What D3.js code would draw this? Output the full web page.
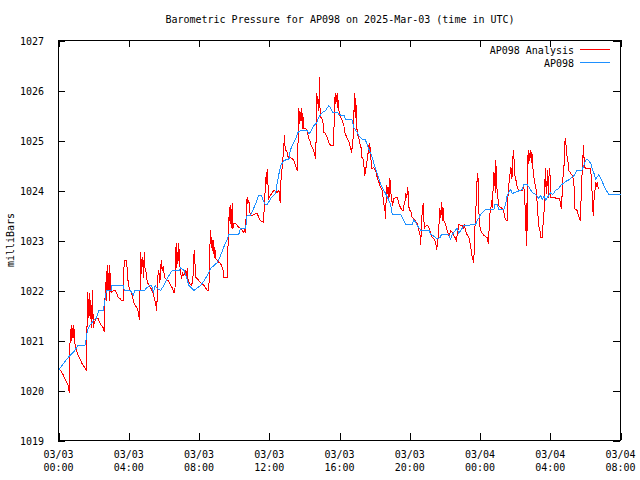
<!DOCTYPE html>
<html><head><meta charset="utf-8">
<script src="https://cdn.jsdelivr.net/npm/d3@7"></script>
<style>
html,body{margin:0;padding:0;background:#fff;}
svg text{font-family:"DejaVu Sans Mono","Liberation Mono",monospace;font-size:10px;fill:#000;}
</style></head>
<body><svg id="c" width="640" height="480"></svg>
<script>
const titleText = "Barometric Pressure for AP098 on 2025-Mar-03 (time in UTC)";
const yLabel = "milliBars";
const seriesNames = ["AP098 Analysis", "AP098"];
const seriesColors = ["#ff0000", "#1e90ff"];
const yTicks = [1019,1020,1021,1022,1023,1024,1025,1026,1027];
const xTickHours = [0,4,8,12,16,20,24,28,32];
const xTickDates = ["03/03","03/03","03/03","03/03","03/03","03/03","03/04","03/04","03/04"];
const xTickTimes = ["00:00","04:00","08:00","12:00","16:00","20:00","00:00","04:00","08:00"];

// Analysis (hours since 03/03 00:00 UTC, mBar)
const analysisHours = [0.04,0.23,0.36,0.51,0.58,0.61,0.63,0.65,0.69,0.72,0.76,0.8,0.84,0.87,0.93,1.03,1.12,1.22,1.31,1.4,1.5,1.59,1.65,1.7,1.75,1.8,1.84,1.9,1.94,1.98,2.03,2.09,2.16,2.25,2.35,2.44,2.54,2.6,2.64,2.68,2.72,2.77,2.81,2.85,2.89,2.92,2.96,3.02,3.12,3.21,3.3,3.4,3.5,3.59,3.68,3.74,3.87,3.93,3.97,4.03,4.1,4.2,4.29,4.38,4.48,4.55,4.61,4.65,4.69,4.72,4.76,4.8,4.84,4.88,4.92,4.97,5.06,5.16,5.27,5.39,5.48,5.55,5.58,5.62,5.66,5.71,5.77,5.85,5.9,5.96,6.04,6.14,6.23,6.33,6.38,6.47,6.57,6.63,6.66,6.7,6.74,6.78,6.81,6.85,6.89,6.95,7.0,7.07,7.14,7.24,7.29,7.33,7.38,7.48,7.57,7.65,7.69,7.73,7.77,7.82,7.9,7.99,8.08,8.18,8.28,8.37,8.47,8.56,8.62,8.66,8.7,8.73,8.79,8.83,8.86,8.9,8.95,9.04,9.13,9.23,9.32,9.38,9.42,9.52,9.61,9.66,9.7,9.74,9.77,9.81,9.85,9.89,9.93,9.98,10.08,10.18,10.27,10.37,10.46,10.56,10.6,10.65,10.69,10.74,10.78,10.84,10.88,10.93,11.02,11.12,11.22,11.31,11.41,11.5,11.6,11.66,11.7,11.75,11.79,11.84,11.88,11.93,11.98,12.07,12.17,12.26,12.36,12.45,12.55,12.58,12.62,12.66,12.7,12.74,12.77,12.82,12.87,12.91,12.99,13.08,13.21,13.3,13.4,13.49,13.59,13.62,13.65,13.69,13.72,13.76,13.8,13.84,13.88,13.91,13.97,14.07,14.16,14.23,14.32,14.39,14.48,14.56,14.64,14.67,14.71,14.75,14.79,14.82,14.86,14.9,14.97,15.05,15.11,15.2,15.3,15.39,15.49,15.58,15.64,15.68,15.72,15.76,15.79,15.83,15.87,15.9,15.94,15.98,16.06,16.16,16.25,16.3,16.44,16.55,16.69,16.74,16.78,16.82,16.86,16.89,16.93,16.97,17.01,17.1,17.16,17.24,17.28,17.33,17.39,17.44,17.49,17.54,17.59,17.64,17.69,17.73,17.77,17.81,17.89,17.96,18.06,18.15,18.25,18.34,18.43,18.49,18.54,18.58,18.62,18.66,18.7,18.74,18.77,18.81,18.87,18.91,18.96,19.02,19.1,19.19,19.29,19.38,19.47,19.57,19.63,19.69,19.74,19.78,19.82,19.86,19.89,19.93,19.97,20.05,20.14,20.23,20.31,20.39,20.46,20.52,20.58,20.62,20.66,20.69,20.73,20.77,20.8,20.86,20.94,21.03,21.1,21.18,21.28,21.37,21.47,21.53,21.58,21.62,21.66,21.7,21.75,21.81,21.85,21.89,21.94,22.03,22.13,22.23,22.34,22.42,22.51,22.58,22.65,22.7,22.76,22.8,22.9,22.99,23.05,23.1,23.18,23.28,23.37,23.44,23.5,23.56,23.61,23.65,23.69,23.73,23.77,23.81,23.84,23.88,23.92,23.96,24.05,24.13,24.23,24.32,24.4,24.47,24.51,24.56,24.61,24.66,24.7,24.75,24.79,24.83,24.87,24.9,24.94,24.98,25.07,25.17,25.27,25.36,25.42,25.5,25.55,25.59,25.63,25.67,25.71,25.74,25.78,25.82,25.87,25.91,25.95,25.99,26.05,26.12,26.2,26.31,26.41,26.5,26.56,26.59,26.63,26.67,26.71,26.75,26.78,26.82,26.86,26.9,26.93,26.96,27.0,27.03,27.11,27.16,27.22,27.26,27.32,27.36,27.41,27.47,27.54,27.58,27.62,27.66,27.69,27.73,27.77,27.81,27.85,27.89,27.92,27.96,28.0,28.04,28.2,28.4,28.5,28.55,28.59,28.63,28.66,28.7,28.74,28.78,28.81,28.85,28.89,28.93,28.97,29.02,29.06,29.14,29.25,29.3,29.35,29.38,29.45,29.54,29.6,29.66,29.71,29.74,29.78,29.82,29.86,29.89,29.93,29.97,30.05,30.11,30.2,30.3,30.34,30.37,30.41,30.45,30.49,30.52,30.56,30.6,30.64,30.68,30.72,30.77];
const analysisValues = [1020.44,1020.34,1020.24,1020.14,1020.06,1019.96,1020.3,1020.94,1021.0,1021.3,1021.0,1021.24,1021.06,1021.3,1020.94,1020.8,1020.7,1020.64,1020.56,1020.5,1020.46,1020.4,1021.96,1021.46,1021.94,1021.44,1021.8,1021.26,1022.0,1021.26,1021.34,1021.4,1021.46,1021.44,1021.36,1021.3,1021.26,1021.18,1021.76,1022.16,1021.8,1022.5,1022.0,1022.34,1021.8,1022.5,1022.0,1021.96,1022.0,1022.0,1021.96,1021.86,1021.84,1021.8,1021.8,1022.6,1022.6,1022.34,1022.14,1022.04,1022.0,1021.9,1021.76,1021.7,1021.64,1021.56,1021.42,1022.14,1022.76,1022.34,1022.5,1022.66,1022.26,1022.76,1022.46,1022.4,1022.16,1022.1,1022.04,1021.94,1021.82,1021.7,1021.6,1021.84,1022.3,1022.4,1022.16,1022.6,1022.4,1022.48,1022.26,1022.22,1022.2,1022.16,1022.1,1022.06,1021.96,1021.96,1022.6,1022.94,1022.46,1022.76,1022.6,1022.94,1022.54,1022.4,1022.24,1022.34,1022.3,1022.4,1022.26,1022.44,1022.2,1022.14,1022.1,1022.2,1022.6,1022.8,1022.54,1022.26,1022.24,1022.2,1022.16,1022.14,1022.1,1022.06,1022.0,1022.0,1022.86,1023.2,1022.86,1023.06,1022.8,1023.0,1022.66,1022.86,1022.64,1022.6,1022.56,1022.54,1022.46,1022.4,1022.26,1022.26,1022.26,1023.0,1023.4,1023.66,1023.34,1023.7,1023.26,1023.74,1023.24,1023.34,1023.34,1023.3,1023.26,1023.24,1023.2,1023.16,1023.2,1023.16,1023.54,1023.86,1023.74,1023.8,1023.6,1023.5,1023.5,1023.52,1023.54,1023.54,1023.46,1023.4,1023.38,1023.36,1023.56,1023.86,1024.26,1024.14,1024.42,1024.1,1023.84,1023.9,1023.96,1024.0,1023.98,1023.96,1024.0,1023.9,1023.76,1024.14,1024.4,1024.44,1024.6,1024.84,1025.1,1024.8,1024.8,1024.66,1024.66,1024.64,1024.6,1024.5,1024.4,1024.54,1025.2,1025.64,1025.34,1025.56,1025.4,1025.64,1025.24,1025.54,1025.24,1025.24,1025.2,1025.06,1025.0,1024.9,1024.84,1024.76,1024.64,1025.06,1025.94,1025.74,1025.8,1025.6,1026.26,1025.46,1025.46,1025.4,1025.16,1025.14,1025.06,1024.96,1024.9,1024.9,1024.9,1025.16,1025.74,1025.94,1025.74,1025.86,1025.94,1025.66,1025.8,1025.54,1025.46,1025.4,1025.3,1025.16,1025.04,1024.96,1024.76,1024.94,1025.06,1025.54,1025.94,1025.46,1025.84,1025.34,1025.16,1025.04,1024.94,1024.84,1024.66,1024.66,1024.5,1024.3,1024.46,1024.46,1024.7,1024.76,1024.94,1024.76,1024.86,1024.44,1024.44,1024.46,1024.4,1024.26,1024.16,1024.06,1024.0,1023.84,1023.7,1023.64,1023.44,1023.86,1024.1,1023.94,1024.06,1023.8,1024.24,1024.0,1023.86,1023.7,1023.84,1023.86,1023.86,1023.74,1023.66,1023.6,1023.6,1023.74,1023.8,1023.94,1023.86,1023.96,1024.06,1023.8,1023.6,1023.6,1023.46,1023.44,1023.4,1023.36,1023.3,1023.2,1023.14,1022.92,1023.2,1023.46,1023.66,1023.74,1023.4,1023.26,1023.3,1023.3,1023.24,1023.16,1023.06,1023.04,1022.96,1022.82,1022.94,1023.06,1023.26,1023.64,1023.46,1023.76,1023.4,1023.66,1023.4,1023.34,1023.2,1023.1,1023.2,1023.16,1023.1,1023.06,1023.0,1023.1,1023.24,1023.32,1023.3,1023.3,1023.26,1023.32,1023.2,1023.1,1023.06,1022.94,1022.8,1022.66,1022.6,1022.56,1023.2,1023.34,1023.66,1024.06,1024.24,1024.34,1023.8,1023.34,1023.2,1023.14,1023.1,1023.08,1023.06,1022.94,1023.16,1023.54,1023.6,1023.8,1023.66,1024.06,1024.36,1024.3,1023.96,1024.6,1024.2,1023.96,1023.7,1023.66,1023.64,1023.56,1023.46,1023.4,1023.4,1023.86,1024.1,1024.2,1024.34,1024.46,1024.44,1024.24,1024.64,1024.8,1024.54,1024.3,1024.2,1024.06,1024.0,1024.0,1024.0,1024.06,1023.76,1023.2,1023.74,1022.9,1024.6,1024.8,1024.54,1024.74,1024.66,1024.8,1024.56,1024.74,1024.54,1024.36,1024.16,1024.1,1023.94,1023.7,1023.4,1023.26,1023.2,1023.06,1023.06,1023.3,1023.4,1023.66,1024.14,1024.44,1023.94,1024.16,1024.4,1023.86,1024.24,1024.44,1024.26,1023.86,1023.86,1023.84,1023.84,1023.8,1023.7,1023.64,1023.8,1024.1,1024.34,1024.46,1024.8,1025.04,1024.94,1024.76,1024.66,1024.56,1024.4,1024.36,1024.3,1024.24,1024.14,1023.64,1023.62,1023.6,1023.5,1023.46,1023.4,1023.66,1024.06,1024.4,1024.66,1024.9,1024.6,1024.46,1024.44,1024.44,1024.44,1024.44,1024.24,1024.06,1023.7,1023.5,1023.8,1023.86,1024.06,1024.16,1024.1,1024.14,1024.06,1024.04];

// Station observations (hours, mBar)
const obsHours = [0.0,0.2,0.42,0.65,0.93,1.1,1.5,1.56,1.65,1.78,2.0,2.16,2.3,2.55,2.62,2.73,3.0,3.02,3.68,3.75,4.1,4.25,4.35,4.9,5.0,5.2,5.3,5.4,5.5,5.6,5.81,6.0,6.2,6.47,6.9,6.95,7.15,7.3,7.42,7.71,7.9,8.09,8.3,8.47,8.66,8.85,9.04,9.23,9.41,9.61,9.7,10.27,10.36,10.65,10.74,10.93,11.22,11.4,11.55,11.65,11.75,11.9,12.1,12.36,12.45,12.55,12.65,12.83,13.12,13.2,13.3,13.5,13.65,13.78,14.16,14.26,14.4,14.54,14.7,14.82,15.0,15.2,15.39,15.5,15.59,15.87,15.96,16.06,16.25,16.34,16.7,16.82,17.01,17.1,17.29,17.45,17.55,17.67,17.86,17.96,18.15,18.34,18.53,18.72,18.91,19.0,19.48,19.66,19.76,20.14,20.23,20.43,20.62,21.09,21.18,21.4,21.57,21.75,21.8,22.23,22.32,22.4,22.51,22.7,22.8,22.9,23.08,23.75,23.84,23.95,24.03,24.32,24.79,24.85,24.98,25.07,25.36,25.45,25.55,25.65,25.74,25.84,26.41,26.5,26.69,26.8,26.98,27.16,27.35,27.45,27.55,27.65,27.75,27.83,28.02,28.15,28.3,28.45,28.59,28.7,28.97,29.1,29.35,29.54,29.8,29.92,30.0,30.11,30.3,30.4,30.5,30.58,30.77,30.9,31.15,31.25,31.34,32.0];
const obsValues = [1020.4,1020.5,1020.6,1020.7,1020.8,1020.9,1020.9,1021.0,1021.2,1021.3,1021.4,1021.45,1021.6,1021.6,1021.75,1022.0,1022.0,1022.1,1022.1,1022.0,1022.0,1021.9,1022.0,1022.0,1022.05,1022.1,1022.1,1021.96,1022.1,1022.05,1022.0,1022.1,1022.25,1022.4,1022.4,1022.46,1022.4,1022.26,1022.1,1022.0,1022.05,1022.1,1022.2,1022.3,1022.44,1022.5,1022.56,1022.7,1022.87,1023.03,1023.13,1023.13,1023.24,1023.24,1023.5,1023.5,1023.73,1023.9,1023.9,1023.8,1023.73,1023.73,1023.85,1023.94,1024.14,1024.33,1024.5,1024.6,1024.63,1024.8,1024.9,1025.03,1025.17,1025.2,1025.2,1025.13,1025.2,1025.3,1025.35,1025.47,1025.55,1025.6,1025.7,1025.65,1025.57,1025.57,1025.52,1025.51,1025.51,1025.42,1025.42,1025.26,1025.16,1025.1,1025.02,1025.02,1024.95,1024.83,1024.67,1024.53,1024.33,1024.13,1024.0,1023.87,1023.73,1023.52,1023.52,1023.4,1023.32,1023.32,1023.42,1023.3,1023.21,1023.21,1023.13,1023.08,1023.03,1023.07,1023.12,1023.12,1023.03,1023.1,1023.17,1023.24,1023.14,1023.2,1023.3,1023.32,1023.4,1023.46,1023.52,1023.62,1023.62,1023.72,1023.72,1023.62,1023.62,1023.72,1023.9,1023.97,1024.02,1023.94,1024.02,1024.12,1024.12,1024.06,1023.96,1023.92,1023.84,1023.9,1023.82,1023.88,1023.8,1023.86,1023.96,1023.92,1024.0,1024.03,1024.1,1024.13,1024.2,1024.22,1024.3,1024.41,1024.41,1024.5,1024.6,1024.62,1024.55,1024.43,1024.33,1024.23,1024.32,1024.22,1024.03,1023.97,1023.92,1023.92];

const svg = d3.select("#c");
const L = 58, R = 620, T = 40, B = 440;
const x = d3.scaleLinear().domain([0, 32]).range([L + 0.5, R + 0.5]);
const y = d3.scaleLinear().domain([1019, 1027]).range([B + 0.5, T + 0.5]);

svg.append("text").attr("x", 340).attr("y", 23).attr("text-anchor", "middle").text(titleText);
svg.append("text").attr("transform", "translate(14,240) rotate(-90)").attr("text-anchor", "middle").text(yLabel);

const g = svg.append("g");
const yAxisL = d3.axisLeft(y).tickValues(yTicks).tickSize(-7).tickPadding(14).tickFormat(d3.format("d"));
const gyl = g.append("g").attr("transform", "translate(" + L + ",0)").call(yAxisL);
gyl.select(".domain").remove();
gyl.selectAll("text").style("font-family", "DejaVu Sans Mono").style("font-size", "10px").attr("dy", "0.35em");
const yAxisR = d3.axisRight(y).tickValues(yTicks).tickSize(-7).tickFormat("");
const gyr = g.append("g").attr("transform", "translate(" + R + ",0)").call(yAxisR);
gyr.select(".domain").remove();

const xAxisB = d3.axisBottom(x).tickValues(xTickHours).tickSize(-7).tickFormat("");
const gxb = g.append("g").attr("transform", "translate(0," + B + ")").call(xAxisB);
gxb.select(".domain").remove();
const xAxisT = d3.axisTop(x).tickValues(xTickHours).tickSize(-7).tickFormat("");
const gxt = g.append("g").attr("transform", "translate(0," + T + ")").call(xAxisT);
gxt.select(".domain").remove();
g.selectAll(".tick line").attr("stroke", "#000").attr("shape-rendering", "crispEdges");

const lbl = svg.append("g").selectAll("text").data(xTickHours).join("text")
  .attr("text-anchor", "middle").attr("x", d => x(d));
lbl.append("tspan").attr("x", d => x(d)).attr("y", 458).text((d, i) => xTickDates[i]);
lbl.append("tspan").attr("x", d => x(d)).attr("y", 471).text((d, i) => xTickTimes[i]);

svg.append("rect").attr("x", L + 0.5).attr("y", T + 0.5).attr("width", R - L).attr("height", B - T)
  .attr("fill", "none").attr("stroke", "#000").attr("shape-rendering", "crispEdges");

const line = d3.line().x(d => x(d[0])).y(d => y(d[1]));
const aData = analysisHours.map((h, i) => [h, analysisValues[i]]);
const oData = obsHours.map((h, i) => [h, obsValues[i]]);
svg.append("path").datum(aData).attr("d", line).attr("fill", "none").attr("stroke", seriesColors[0])
  .attr("stroke-width", 1).attr("shape-rendering", "crispEdges");
svg.append("path").datum(oData).attr("d", line).attr("fill", "none").attr("stroke", seriesColors[1])
  .attr("stroke-width", 1).attr("shape-rendering", "crispEdges");

const leg = svg.append("g");
[0, 1].forEach(i => {
  const yy = 50 + i * 13;
  leg.append("text").attr("x", 574).attr("y", yy + 4).attr("text-anchor", "end").text(seriesNames[i]);
  leg.append("line").attr("x1", 580).attr("x2", 610).attr("y1", yy - 0.5).attr("y2", yy - 0.5)
    .attr("stroke", seriesColors[i]).attr("stroke-width", 1).attr("shape-rendering", "crispEdges");
});
</script></body></html>
